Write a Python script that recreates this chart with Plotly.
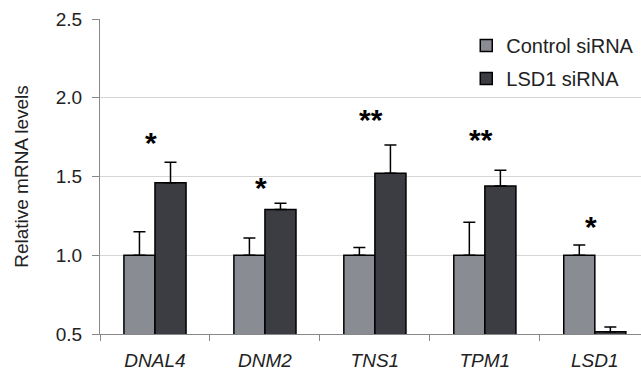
import plotly.graph_objects as go

genes = ["DNAL4", "DNM2", "TNS1", "TPM1", "LSD1"]
control_vals = [1.0, 1.0, 1.0, 1.0, 1.0]
control_err = [0.15, 0.11, 0.05, 0.21, 0.065]
lsd1_vals = [1.46, 1.29, 1.52, 1.44, 0.515]
lsd1_err = [0.13, 0.04, 0.18, 0.10, 0.03]
sig_labels = ["*", "*", "**", "**", "*"]
sig_y = [1.715, 1.43, 1.86, 1.735, 1.18]

tick_labels = [f"<i>{g}</i>" for g in genes]
FONT = "Liberation Sans, Arial, sans-serif"

fig = go.Figure()
fig.add_trace(go.Bar(
    x=genes, y=control_vals, name="Control siRNA", legendgroup="a",
    marker=dict(color="#8a8c93", line=dict(color="black", width=1.5)),
    error_y=dict(type="data", symmetric=False, array=control_err,
                 arrayminus=[0]*len(genes), color="black", thickness=1.5, width=6),
))
fig.add_trace(go.Bar(
    x=genes, y=lsd1_vals, name="LSD1 siRNA", legendgroup="b",
    marker=dict(color="#3c3d43", line=dict(color="black", width=1.5)),
    error_y=dict(type="data", symmetric=False, array=lsd1_err,
                 arrayminus=[0]*len(genes), color="black", thickness=1.5, width=6),
))

for g, s, yv in zip(genes, sig_labels, sig_y):
    fig.add_annotation(x=g, y=yv, text=f"<b>{s}</b>", showarrow=False, xshift=-4,
                       font=dict(size=30, color="black", family=FONT),
                       yanchor="middle")

fig.update_layout(
    width=641, height=374,
    margin=dict(l=100, r=0, t=19, b=40, autoexpand=False),
    paper_bgcolor="white", plot_bgcolor="white",
    barmode="group", bargap=0.435, bargroupgap=0,
    font=dict(family=FONT, size=16, color="#222"),
    showlegend=True,
    legend=dict(x=0.677, y=0.978, xanchor="left", yanchor="top",
                font=dict(size=20, color="#222"), tracegroupgap=4,
                bgcolor="rgba(0,0,0,0)"),
)
fig.update_xaxes(
    range=[-0.5, 4.42], automargin=False,
    tickmode="array", tickvals=genes, ticktext=tick_labels,
    showline=True, linecolor="#888", linewidth=1,
    ticks="outside", tickson="boundaries", ticklen=6, tickcolor="#888",
    ticklabelstandoff=9,
    tickfont=dict(size=19, color="#222"),
)
fig.update_yaxes(
    range=[0.5, 2.5], automargin=False,
    tickvals=[0.5, 1.0, 1.5, 2.0, 2.5],
    ticktext=["0.5", "1.0", "1.5", "2.0", "2.5"],
    showline=True, linecolor="#888", linewidth=1,
    ticks="outside", ticklen=7, tickcolor="#888",
    ticklabelstandoff=6,
    showgrid=True, gridcolor="#d6d6d6", gridwidth=1,
    tickfont=dict(size=19, color="#222"),
    title=dict(text="Relative mRNA levels", font=dict(size=19, color="#222"), standoff=22),
    zeroline=False,
)

fig.write_html("out.html", config={"displayModeBar": False},
               post_script="document.body.style.margin='0';document.body.style.overflow='hidden';")
